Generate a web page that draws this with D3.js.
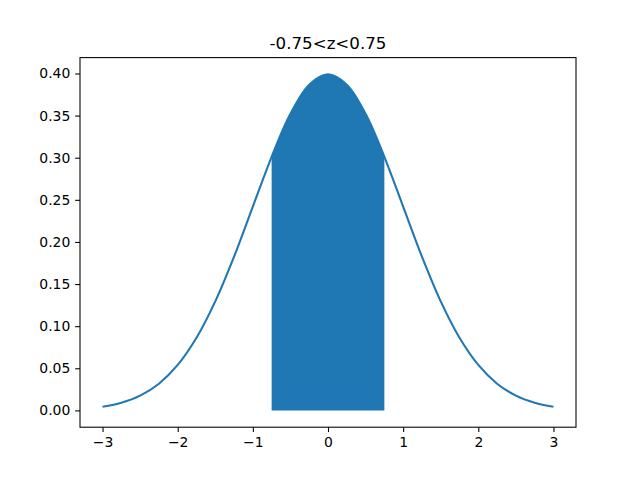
<!DOCTYPE html>
<html>
<head>
<meta charset="utf-8">
<script src="https://cdn.jsdelivr.net/npm/d3@7"></script>
<style>
  html, body { margin: 0; padding: 0; background: #fff; }
  svg { display: block; }
  text { font-family: "DejaVu Sans", sans-serif; }
</style>
</head>
<body>
<script>
// Data (standard-normal-shaped curve)
const zValues = [-3, -2.75, -2.5, -2.25, -2, -1.75, -1.5, -1.25, -1, -0.75, -0.5, -0.25, 0,
                 0.25, 0.5, 0.75, 1, 1.25, 1.5, 1.75, 2, 2.25, 2.5, 2.75, 3];
const densityValues = [0.0044, 0.0091, 0.0175, 0.0317, 0.0540, 0.0863, 0.1295, 0.1826, 0.2420, 0.3011, 0.3521, 0.3867, 0.3989,
                       0.3867, 0.3521, 0.3011, 0.2420, 0.1826, 0.1295, 0.0863, 0.0540, 0.0317, 0.0175, 0.0091, 0.0044];
const shadeLow = -0.75;
const shadeHigh = 0.75;
const titleText = "-0.75<z<0.75";
const xTicks = [-3, -2, -1, 0, 1, 2, 3];
const yTicks = [0.00, 0.05, 0.10, 0.15, 0.20, 0.25, 0.30, 0.35, 0.40];

const W = 640, H = 480;
const mLeft = 80, mRight = 576, mTop = 57.6, mBottom = 427.2;
const color = "#1f77b4";

const svg = d3.select("body").append("svg").attr("width", W).attr("height", H);

const xmin = d3.min(zValues), xmax = d3.max(zValues);
const xpad = (xmax - xmin) * 0.05;
const ymax = d3.max(densityValues), ymin = 0;
const ypad = (ymax - ymin) * 0.05;

const x = d3.scaleLinear().domain([xmin - xpad, xmax + xpad]).range([mLeft, mRight]);
const y = d3.scaleLinear().domain([ymin - ypad, ymax + ypad]).range([mBottom, mTop]);

const pts = zValues.map((z, i) => ({ z, d: densityValues[i] }));
const shaded = pts.filter(p => p.z >= shadeLow && p.z <= shadeHigh);

svg.append("path")
  .datum(shaded)
  .attr("fill", color)
  .attr("stroke", "none")
  .attr("d", d3.area().x(p => x(p.z)).y0(y(0)).y1(p => y(p.d)).curve(d3.curveCatmullRom));

svg.append("path")
  .datum(pts)
  .attr("fill", "none")
  .attr("stroke", color)
  .attr("stroke-width", 2.08)
  .attr("stroke-linejoin", "round")
  .attr("d", d3.line().x(p => x(p.z)).y(p => y(p.d)).curve(d3.curveCatmullRom));

const fmtX = v => (v < 0 ? "\u2212" + Math.abs(v) : String(v));
const xAxis = d3.axisBottom(x).tickValues(xTicks).tickFormat(fmtX).tickSize(4.86).tickPadding(4.86);
const yAxis = d3.axisLeft(y).tickValues(yTicks).tickFormat(d3.format(".2f")).tickSize(4.86).tickPadding(4.86);

const gx = svg.append("g").attr("transform", `translate(0,${mBottom})`).call(xAxis);
const gy = svg.append("g").attr("transform", `translate(${mLeft},0)`).call(yAxis);
[gx, gy].forEach(g => {
  g.select(".domain").remove();
  g.selectAll(".tick line").attr("stroke", "#000").attr("stroke-width", 1.07);
  g.selectAll(".tick text").attr("fill", "#000").style("font-size", "13.9px").style("font-family", "DejaVu Sans, sans-serif");
});

svg.append("rect")
  .attr("x", mLeft).attr("y", mTop)
  .attr("width", mRight - mLeft).attr("height", mBottom - mTop)
  .attr("fill", "none").attr("stroke", "#000").attr("stroke-width", 1.07);

svg.append("text")
  .attr("x", (mLeft + mRight) / 2).attr("y", mTop - 8.3)
  .attr("text-anchor", "middle")
  .style("font-size", "16.67px")
  .attr("fill", "#000")
  .text(titleText);
</script>
</body>
</html>
